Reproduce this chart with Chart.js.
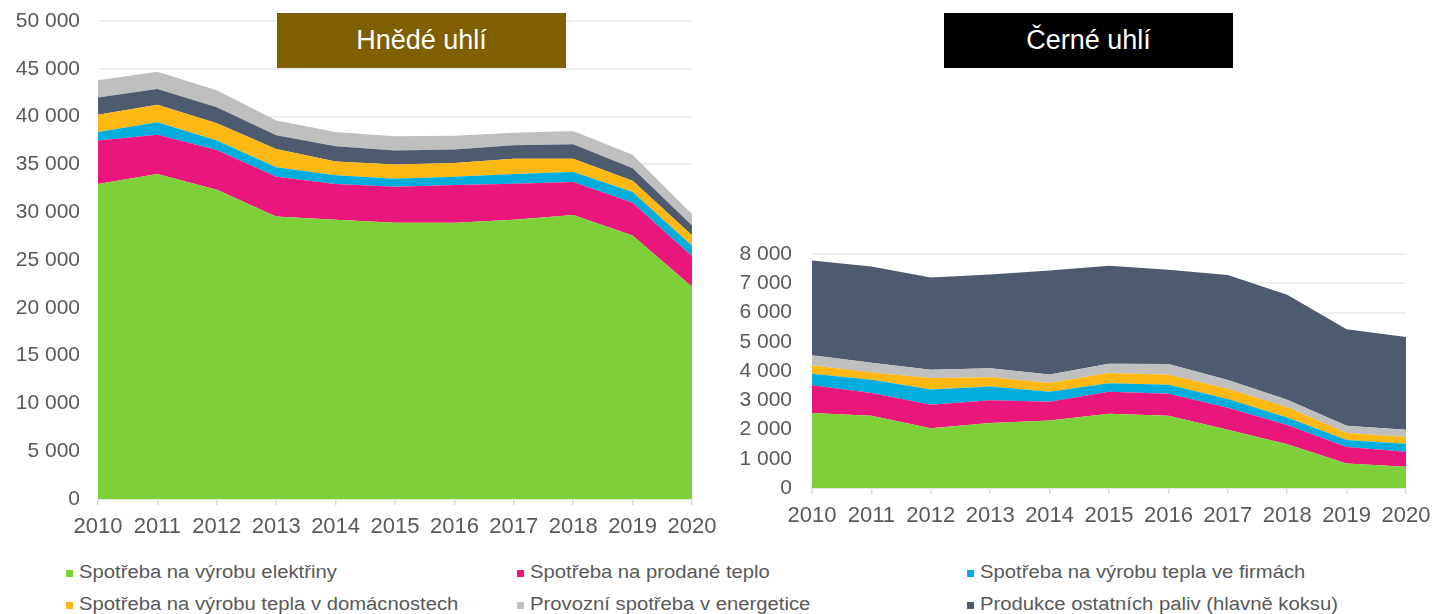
<!DOCTYPE html>
<html><head><meta charset="utf-8">
<script src="https://cdn.jsdelivr.net/npm/chart.js@4"></script>
<style>
body{margin:0;width:1432px;height:614px;background:#fff;position:relative;overflow:hidden;font-family:"Liberation Sans",Arial,sans-serif}
canvas{position:absolute;top:0}
#c1{left:0}
#c2{left:720px}
.title{position:absolute;top:13px;width:289px;height:55px;color:#fff;font-size:27px;display:flex;align-items:center;justify-content:center}
.leg{position:absolute;font-size:18px;line-height:20px;color:#595959;white-space:nowrap;height:20px}
.leg i{position:absolute;left:0;top:8px;width:7px;height:7px}
.leg span{position:absolute;left:13px;top:0;transform:scaleX(1.125);transform-origin:0 50%}
</style></head><body>
<canvas id="c1" width="720" height="545"></canvas>
<canvas id="c2" width="712" height="545"></canvas>
<div class="title" style="left:277px;background:#7f5f00">Hnědé uhlí</div>
<div class="title" style="left:944px;background:#000">Černé uhlí</div>
<div id="legend"></div>
<script>
// ---- data ----
const years = ['2010','2011','2012','2013','2014','2015','2016','2017','2018','2019','2020'];

const seriesNames = [
  'Spotřeba na výrobu elektřiny',
  'Spotřeba na prodané teplo',
  'Spotřeba na výrobu tepla ve firmách',
  'Spotřeba na výrobu tepla v domácnostech',
  'Provozní spotřeba v energetice',
  'Produkce ostatních paliv (hlavně koksu)'
];
const seriesColors = ['#7ed03b', '#e9177c', '#00addc', '#fdb813', '#bfbfbf', '#4e5a6e'];

// Hnědé uhlí
const hnedeElektrina   = [32950, 34000, 32350, 29550, 29200, 28900, 28900, 29200, 29700, 27550, 22200];
const hnedeTeplo       = [4550, 4100, 4150, 4150, 3750, 3770, 3950, 3780, 3460, 3440, 3200];
const hnedeFirmy       = [900, 1300, 1000, 1000, 910, 830, 850, 1020, 1040, 1110, 1100];
const hnedeDomacnosti  = [1800, 1850, 1800, 1900, 1440, 1480, 1450, 1600, 1400, 1200, 1100];
const hnedePaliva      = [1800, 1650, 1670, 1460, 1600, 1470, 1400, 1400, 1500, 1300, 1000];
const hnedeProvozni    = [1800, 1800, 1780, 1540, 1500, 1500, 1450, 1300, 1400, 1400, 1200];

// Černé uhlí
const cerneElektrina   = [2560, 2470, 2040, 2220, 2310, 2540, 2470, 1990, 1500, 840, 730];
const cerneTeplo       = [950, 780, 810, 780, 640, 750, 750, 750, 650, 560, 510];
const cerneFirmy       = [400, 450, 520, 470, 340, 290, 310, 300, 260, 240, 270];
const cerneDomacnosti  = [290, 250, 390, 320, 300, 350, 340, 350, 350, 240, 230];
const cerneProvozni    = [340, 330, 280, 300, 290, 320, 370, 300, 260, 250, 250];
const cernePaliva      = [3240, 3290, 3160, 3210, 3560, 3350, 3220, 3590, 3590, 3300, 3170];

// ---- helpers ----
const fmt = v => String(v).replace(/\B(?=(\d{3})+(?!\d))/g, ' ');

function ds(idx, data, first) {
  return {
    label: seriesNames[idx],
    data: data,
    backgroundColor: seriesColors[idx],
    borderColor: seriesColors[idx],
    borderWidth: 0,
    pointRadius: 0,
    tension: 0,
    fill: first ? 'origin' : '-1'
  };
}

Chart.defaults.font.family = '"Liberation Sans", Arial, sans-serif';
Chart.defaults.color = '#595959';

function noPad(s) { s.paddingLeft = 0; s.paddingRight = 0; s.paddingTop = 0; s.paddingBottom = 0; }

function makeChart(id, datasets, yMax, yStep, yWidth, pad, xHeight, yPad) {
  return new Chart(document.getElementById(id), {
    type: 'line',
    data: { labels: years, datasets: datasets },
    options: {
      responsive: false,
      animation: false,
      devicePixelRatio: 1,
      layout: { padding: pad },
      plugins: { legend: { display: false }, tooltip: { enabled: false } },
      scales: {
        x: {
          offset: false,
          grid: { drawOnChartArea: false, drawTicks: true, tickLength: 6, color: '#d9d9d9', lineWidth: 1.5 },
          border: { display: true, color: '#d9d9d9', width: 1.5 },
          ticks: { font: { size: 22 }, padding: 9, maxRotation: 0, autoSkip: false, color: '#595959' },
          afterFit: s => { s.height = xHeight; noPad(s); }
        },
        y: {
          stacked: true,
          min: 0, max: yMax,
          grid: { color: '#eeeeee', lineWidth: 2, drawTicks: false },
          border: { display: false },
          ticks: { stepSize: yStep, font: { size: 21 }, padding: yPad, callback: v => fmt(v), color: '#595959' },
          afterFit: s => { s.width = yWidth; noPad(s); }
        }
      }
    }
  });
}

makeChart('c1', [
  ds(0, hnedeElektrina, true),
  ds(1, hnedeTeplo),
  ds(2, hnedeFirmy),
  ds(3, hnedeDomacnosti),
  ds(5, hnedePaliva),
  ds(4, hnedeProvozni)
], 50000, 5000, 98, { top: 21, right: 28, bottom: 0, left: 0 }, 46, 18);

makeChart('c2', [
  ds(0, cerneElektrina, true),
  ds(1, cerneTeplo),
  ds(2, cerneFirmy),
  ds(3, cerneDomacnosti),
  ds(4, cerneProvozni),
  ds(5, cernePaliva)
], 8000, 1000, 92, { top: 254, right: 26, bottom: 0, left: 0 }, 57, 20);

// ---- legend ----
const legendPos = [[66, 562], [517, 562], [967, 562], [66, 594], [517, 594], [967, 594]];
const legend = document.getElementById('legend');
seriesNames.forEach((name, i) => {
  const d = document.createElement('div');
  d.className = 'leg';
  d.style.left = legendPos[i][0] + 'px';
  d.style.top = legendPos[i][1] + 'px';
  const m = document.createElement('i');
  m.style.background = seriesColors[i];
  const t = document.createElement('span');
  t.textContent = name;
  d.appendChild(m); d.appendChild(t);
  legend.appendChild(d);
});
</script>
</body></html>
